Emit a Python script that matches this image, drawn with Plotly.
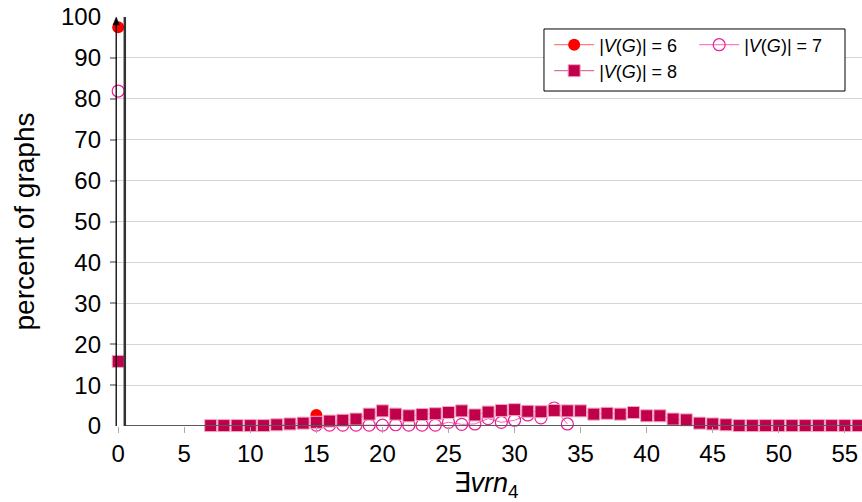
import plotly.graph_objects as go

# ∃vrn_4 value (x) and percentage of graphs (y) for each vertex count.
# None breaks the connecting line between separated groups of points.
vrn_6 = [0, None, 15]
pct_6 = [97.5, None, 2.7]

vrn_7 = [0, None, 15, 16, 17, 18, 19, 20, 21, 22, 23, 24, 25, 26, 27, 28, 29,
         30, 31, 32, 33, 34]
pct_7 = [81.9, None, 0.2, 0.2, 0.2, 0.2, 0.2, 0.2, 0.3, 0.2, 0.2, 0.2, 0.9,
         0.4, 0.5, 1.8, 0.9, 1.4, 2.7, 2.0, 4.4, 0.5]

vrn_8 = [0, None, 7, 8, 9, 10, 11, 12, 13, 14, 15, 16, 17, 18, 19, 20, 21, 22,
         23, 24, 25, 26, 27, 28, 29, 30, 31, 32, 33, 34, 35, 36, 37, 38, 39,
         40, 41, 42, 43, 44, 45, 46, 47, 48, 49, 50, 51, 52, 53, 54, 55, 56]
pct_8 = [15.8, None, 0.1, 0.1, 0.1, 0.1, 0.1, 0.3, 0.5, 0.7, 0.9, 1.2, 1.4,
         1.7, 2.9, 3.7, 2.9, 2.5, 2.8, 3.0, 3.3, 3.7, 2.7, 3.4, 3.8, 4.0, 3.6,
         3.5, 3.8, 3.7, 3.7, 2.9, 3.1, 2.9, 3.3, 2.5, 2.5, 1.7, 1.5, 0.7, 0.5,
         0.3, 0.1, 0.1, 0.1, 0.1, 0.1, 0.1, 0.1, 0.1, 0.1, 0.1]

x_ticks = [0, 5, 10, 15, 20, 25, 30, 35, 40, 45, 50, 55]
y_ticks = [0, 10, 20, 30, 40, 50, 60, 70, 80, 90, 100]

FONT = "Liberation Sans, Arial, DejaVu Sans, sans-serif"
X_MIN, X_MAX = -0.62, 56.3
Y_AXIS_X = -0.15

fig = go.Figure()

fig.add_trace(go.Scatter(
    x=vrn_6, y=pct_6, mode="lines+markers", name="|<i>V</i>(<i>G</i>)| = 6",
    line=dict(color="#ff5c5c", width=1),
    marker=dict(symbol="circle", size=12, color="#ff0000",
                line=dict(color="#ff0000", width=0)),
    cliponaxis=False, legend="legend",
))
fig.add_trace(go.Scatter(
    x=vrn_7, y=pct_7, mode="lines+markers", name="|<i>V</i>(<i>G</i>)| = 7",
    line=dict(color="#ff5cc0", width=1),
    marker=dict(symbol="circle-open", size=12, color="#ee1e96",
                line=dict(width=1.2)),
    cliponaxis=False, legend="legend",
))
fig.add_trace(go.Scatter(
    x=vrn_8, y=pct_8, mode="lines+markers", name="|<i>V</i>(<i>G</i>)| = 8",
    line=dict(color="#d2527f", width=1),
    marker=dict(symbol="square", size=12, color="#c0004a",
                line=dict(color="#f2a6c2", width=1)),
    cliponaxis=False, legend="legend2",
))

shapes = [
    # white legend frame
    dict(type="rect", xref="paper", yref="paper",
         x0=0.5771, x1=0.9774, y0=0.819, y1=0.9707,
         line=dict(color="black", width=1), fillcolor="white", layer="above"),
    # horizontal baseline
    dict(type="line", xref="x", yref="y", x0=0.5, x1=X_MAX, y0=0, y1=0,
         line=dict(color="#5a5a5a", width=2), layer="above"),
    # thick vertical rule next to the y axis
    dict(type="line", xref="x", yref="y", x0=0.5, x1=0.5, y0=0, y1=100,
         line=dict(color="#333333", width=2.5), layer="above"),
    # thin y axis line
    dict(type="line", xref="x", yref="y", x0=Y_AXIS_X, x1=Y_AXIS_X,
         y0=-0.3, y1=99, line=dict(color="black", width=1.3), layer="above"),
    # arrow tip on the y axis (pixel-sized, anchored at the top of the axis)
    dict(type="path", xref="x", yref="y",
         xsizemode="pixel", ysizemode="pixel",
         xanchor=Y_AXIS_X, yanchor=100,
         path="M -3.2 -8 L 0 0 L 3.2 -8 Z",
         fillcolor="black", line=dict(color="black", width=0.5),
         layer="above"),
]

fig.update_layout(
    width=862, height=502,
    margin=dict(l=110, r=0, t=17, b=76),
    paper_bgcolor="white", plot_bgcolor="white",
    font=dict(family=FONT, color="black"),
    showlegend=True,
    legend=dict(
        orientation="h", x=0.584, y=0.9315, xanchor="left", yanchor="middle",
        bgcolor="rgba(0,0,0,0)", borderwidth=0, entrywidth=90, itemwidth=40,
        font=dict(family=FONT, size=18, color="black"),
    ),
    legend2=dict(
        orientation="h", x=0.584, y=0.868, xanchor="left", yanchor="middle",
        bgcolor="rgba(0,0,0,0)", borderwidth=0, itemwidth=40,
        font=dict(family=FONT, size=18, color="black"),
    ),
    shapes=shapes,
    xaxis=dict(
        range=[X_MIN, X_MAX], tickmode="array", tickvals=x_ticks,
        ticktext=[str(v) for v in x_ticks],
        showgrid=False, zeroline=False, showline=False,
        ticks="outside", ticklen=6, tickwidth=1, tickcolor="#aaaaaa",
        tickfont=dict(family=FONT, size=24, color="black"),
        title=dict(text="∃<i>vrn</i><sub>4</sub>",
                   font=dict(family=FONT, size=27, color="black"),
                   standoff=10),
    ),
    xaxis2=dict(
        range=[X_MIN, X_MAX], overlaying="x", anchor="y", side="bottom",
        tickmode="array", tickvals=x_ticks, showticklabels=False,
        showgrid=False, zeroline=False, showline=False,
        ticks="inside", ticklen=6, tickwidth=1, tickcolor="#aaaaaa",
    ),
    yaxis=dict(
        range=[0, 100], tickmode="array", tickvals=y_ticks,
        ticktext=[str(v) for v in y_ticks],
        showgrid=True, gridcolor="#d4d4d4", gridwidth=1,
        zeroline=False, showline=False,
        ticks="inside", ticklen=7, tickwidth=1.5, tickcolor="#9a9a9a",
        ticklabelstandoff=8,
        tickfont=dict(family=FONT, size=24, color="black"),
        title=dict(text="percent of graphs",
                   font=dict(family=FONT, size=28, color="black"),
                   standoff=18),
    ),
)

fig.write_html("out.html")
